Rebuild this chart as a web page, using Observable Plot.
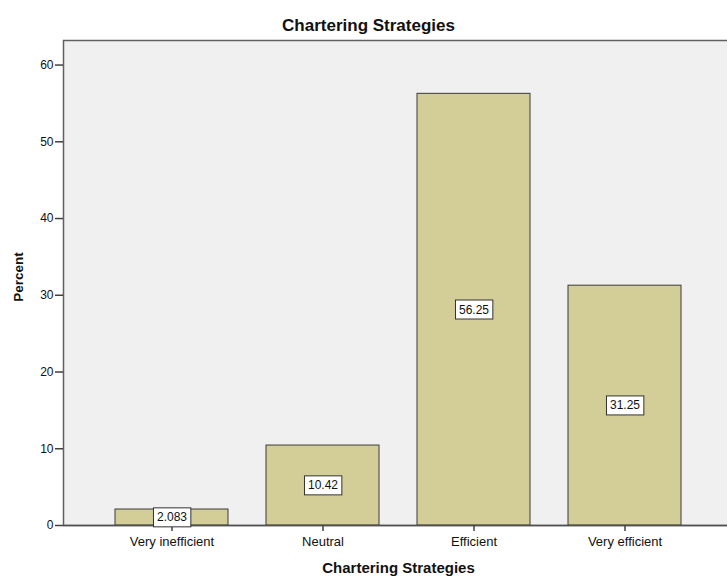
<!DOCTYPE html>
<html>
<head>
<meta charset="utf-8">
<script src="https://cdn.jsdelivr.net/npm/d3@7"></script>
<script src="https://cdn.jsdelivr.net/npm/@observablehq/plot@0.6"></script>
<style>
  body { margin: 0; background: white; }
  #chart svg { display: block; }
</style>
</head>
<body>
<div id="chart"></div>
<script>
const categories = ["Very inefficient", "Neutral", "Efficient", "Very efficient"];
const percents = [2.083, 10.42, 56.25, 31.25];
const labels = ["2.083", "10.42", "56.25", "31.25"];
const yTicks = [0, 10, 20, 30, 40, 50, 60];
const titleText = "Chartering Strategies";
const xLabel = "Chartering Strategies";
const yLabel = "Percent";

const data = categories.map((c, i) => ({category: c, percent: percents[i], label: labels[i]}));
const font = "'Liberation Sans', Arial, sans-serif";

const chart = Plot.plot({
  width: 727,
  height: 579,
  marginTop: 40,
  marginBottom: 54,
  marginLeft: 63,
  marginRight: 0,
  style: {fontFamily: font, fontSize: "12px", color: "#111", background: "white"},
  x: {domain: categories, range: [96, 700], paddingInner: 0.25, paddingOuter: 0.125, label: null},
  y: {domain: [0, 63.2], label: null},
  marks: [
    Plot.frame({fill: "#f0f0f0", stroke: "#606060", strokeWidth: 1.5, insetRight: -3}),
    Plot.barY(data, {x: "category", y: "percent", fill: "#d3ce97", stroke: "#3a3a3a", strokeWidth: 1}),
    Plot.ruleY([0], {stroke: "#505050", strokeWidth: 1.5}),
    Plot.axisY({ticks: yTicks, tickSize: 8, tickPadding: 2, stroke: "#404040", strokeWidth: 1.5, fontSize: 12, fill: "#111", label: null}),
    Plot.axisX({tickSize: 6, tickPadding: 5, stroke: "#404040", strokeWidth: 1.5, fontSize: 13, fill: "#111", label: null}),
    Plot.text(data, {x: "category", y: d => d.percent / 2, text: "label", fontSize: 12, fill: "#111"}),
    Plot.text([titleText], {frameAnchor: "top", dx: -27, dy: -22, fontSize: 17, fontWeight: "bold", fill: "#111"}),
    Plot.text([xLabel], {frameAnchor: "bottom", dx: 3, dy: 47, fontSize: 15, fontWeight: "bold", fill: "#111"}),
    Plot.text([yLabel], {frameAnchor: "left", textAnchor: "middle", dx: -45, dy: -6, rotate: -90, fontSize: 13.5, fontWeight: "bold", fill: "#111"})
  ]
});

document.getElementById("chart").appendChild(chart);

// letter spacing on the axis title and chart title
chart.querySelectorAll("text").forEach(t => {
  if (t.textContent === xLabel && t.getAttribute("font-size") === "15") t.style.letterSpacing = "1.4px";
  if (t.textContent === titleText && t.getAttribute("font-size") === "17") t.style.letterSpacing = "0.9px";
});

// white boxes behind value labels
const labelSet = new Set(labels);
chart.querySelectorAll("text").forEach(t => {
  if (!labelSet.has(t.textContent)) return;
  const b = t.getBBox();
  const r = document.createElementNS("http://www.w3.org/2000/svg", "rect");
  const padX = 3.5, padY = 2.5;
  r.setAttribute("x", b.x - padX);
  r.setAttribute("y", b.y - padY);
  r.setAttribute("width", b.width + 2 * padX);
  r.setAttribute("height", b.height + 2 * padY);
  r.setAttribute("fill", "white");
  r.setAttribute("stroke", "#333");
  r.setAttribute("stroke-width", "1");
  const tr = t.getAttribute("transform");
  if (tr) r.setAttribute("transform", tr);
  t.parentNode.insertBefore(r, t);
});
</script>
</body>
</html>
